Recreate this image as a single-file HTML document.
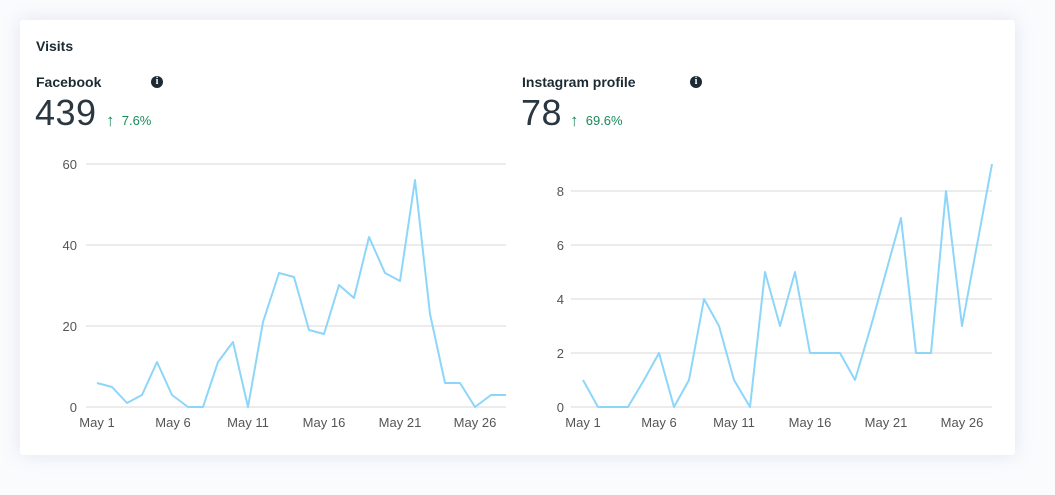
<!DOCTYPE html>
<html><head><style>
body{margin:0;width:1055px;height:495px;background:#fafbfd;font-family:"Liberation Sans",sans-serif;position:relative;overflow:hidden}
.card{position:absolute;left:20px;top:20px;width:995px;height:435px;background:#fff;border-radius:3px;box-shadow:0 0 18px rgba(200,205,230,0.45)}
.t{position:absolute;color:#1c2b33;font-weight:bold;font-size:14px}
.big{position:absolute;font-size:36px;color:#2a3740;letter-spacing:0.5px}
.pct{position:absolute;font-size:13px;color:#1a8a5a}
.pct b{font-weight:normal;font-size:17px;position:relative;top:1px}
.info{position:absolute;width:12px;height:12px;border-radius:50%;background:#1c2b33;color:#fff;font-size:10px;font-weight:bold;text-align:center;line-height:12px;font-family:"Liberation Serif",serif}
svg{position:absolute;left:0;top:0}
</style></head><body>
<div class="card"></div>
<div class="t" style="left:36px;top:38px">Visits</div>
<div class="t" style="left:36px;top:74px">Facebook</div>
<div class="info" style="left:151px;top:76px">i</div>
<div class="big" style="left:35px;top:92px">439</div>
<div class="pct" style="left:106px;top:110px"><b>↑</b>&nbsp; 7.6%</div>
<div class="t" style="left:522px;top:74px">Instagram profile</div>
<div class="info" style="left:690px;top:76px">i</div>
<div class="big" style="left:521px;top:92px">78</div>
<div class="pct" style="left:570px;top:110px"><b>↑</b>&nbsp; 69.6%</div>
<svg width="1055" height="495" font-family="Liberation Sans, sans-serif" font-size="13" fill="#555">
<g stroke="#e6e6e6" stroke-width="1.5">
<line x1="86" x2="506" y1="164" y2="164"/><line x1="86" x2="506" y1="245" y2="245"/><line x1="86" x2="506" y1="326" y2="326"/><line x1="86" x2="506" y1="407" y2="407"/>
<line x1="571" x2="992" y1="191" y2="191"/><line x1="571" x2="992" y1="245" y2="245"/><line x1="571" x2="992" y1="299" y2="299"/><line x1="571" x2="992" y1="353" y2="353"/><line x1="571" x2="992" y1="407" y2="407"/>
</g>
<g text-anchor="end">
<text x="77" y="169">60</text><text x="77" y="250">40</text><text x="77" y="331">20</text><text x="77" y="412">0</text>
<text x="564" y="196">8</text><text x="564" y="250">6</text><text x="564" y="304">4</text><text x="564" y="358">2</text><text x="564" y="412">0</text>
</g>
<g text-anchor="middle">
<text x="97" y="427">May 1</text><text x="173" y="427">May 6</text><text x="248" y="427">May 11</text><text x="324" y="427">May 16</text><text x="400" y="427">May 21</text><text x="475" y="427">May 26</text>
<text x="583" y="427">May 1</text><text x="659" y="427">May 6</text><text x="734" y="427">May 11</text><text x="810" y="427">May 16</text><text x="886" y="427">May 21</text><text x="962" y="427">May 26</text>
</g>
<polyline fill="none" stroke="#8dd6f9" stroke-width="2" stroke-linejoin="round" points="97,383 112,387 127,403 142,395 157,362 172,395 188,407 203,407 218,362 233,342 248,407 263,322 279,273 294,277 309,330 324,334 339,285 354,298 369,237 385,273 400,281 415,180 430,314 445,383 460,383 475,407 491,395 506,395"/>
<polyline fill="none" stroke="#8dd6f9" stroke-width="2" stroke-linejoin="round" points="583,380 598,407 613,407 628,407 644,380 659,353 674,407 689,380 704,299 719,326 734,380 750,407 765,272 780,326 795,272 810,353 825,353 840,353 855,380 871,326 886,272 901,218 916,353 931,353 946,191 962,326 977,245 992,164"/>
</svg>
</body></html>
